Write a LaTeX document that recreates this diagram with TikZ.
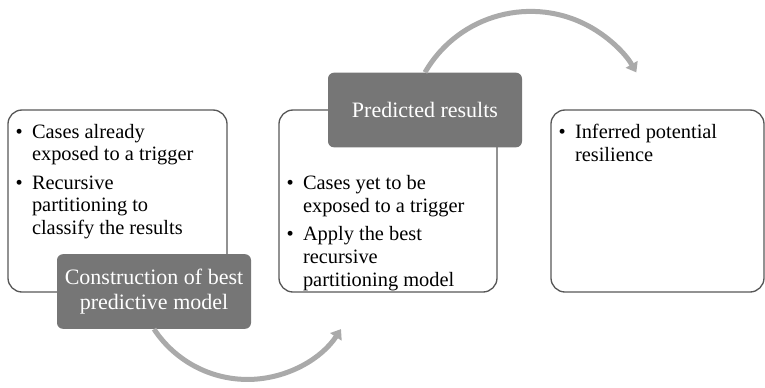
\documentclass[tikz,border=0pt]{standalone}
\usepackage{fontspec}
\setmainfont{Liberation Serif}
\usetikzlibrary{arrows.meta}
\definecolor{framegray}{RGB}{88,88,88}
\definecolor{tabgray}{RGB}{118,118,118}
\definecolor{arcgray}{RGB}{170,170,170}
\newenvironment{pts}{\begin{list}{\textbullet}{\setlength{\leftmargin}{18pt}\setlength{\labelwidth}{6pt}\setlength{\labelsep}{7pt}\setlength{\itemsep}{4pt}\setlength{\topsep}{0pt}\setlength{\parsep}{0pt}\setlength{\partopsep}{0pt}}\raggedright}{\end{list}}
\newcommand{\boxbody}[3]{\parbox[c][136.5pt][t]{#1}{\vspace*{#2}\begin{pts}#3\end{pts}}}
\begin{document}
\begin{tikzpicture}[x=0.75pt, y=0.75pt, font=\fontsize{15.3}{17.1}\selectfont,
  stagebox/.style={draw=framegray, line width=1pt, rounded corners=10.5pt, inner sep=0pt},
  tab/.style={fill=tabgray, text=white, rounded corners=4.5pt, minimum width=145.5pt, minimum height=56pt, align=center, inner sep=0pt, font=\fontsize{16.5}{19}\selectfont},
  flow/.style={draw=arcgray, line width=3.75pt, -{Triangle[length=7pt,width=10pt]}}]
\useasboundingbox (0,0) rectangle (765,-387);
% three stages
\node[stagebox] (S1) at (117.5,-201) {\boxbody{164.25pt}{10.5pt}{\item Cases already\\ exposed to a trigger \item Recursive\\ partitioning to\\ classify the results}};
\node[stagebox] (S2) at (388,-201) {\boxbody{163.5pt}{49pt}{\item Cases yet to be\\ exposed to a trigger \item Apply the best\\ recursive\\ partitioning model}};
\node[stagebox] (S3) at (657.5,-201) {\boxbody{159.75pt}{10.5pt}{\item Inferred potential\\ resilience}};
% dark tabs
\node[tab] (C) at (154,-291.5) {Construction of best\\predictive model};
\node[tab] (P) at (425,-110) {Predicted results};
% arcs
\draw[flow] (C.south) arc[start angle=213.4, end angle=326.6, radius=112];
\draw[flow] (P.north) arc[start angle=150, end angle=30, radius=122];
\end{tikzpicture}
\end{document}
